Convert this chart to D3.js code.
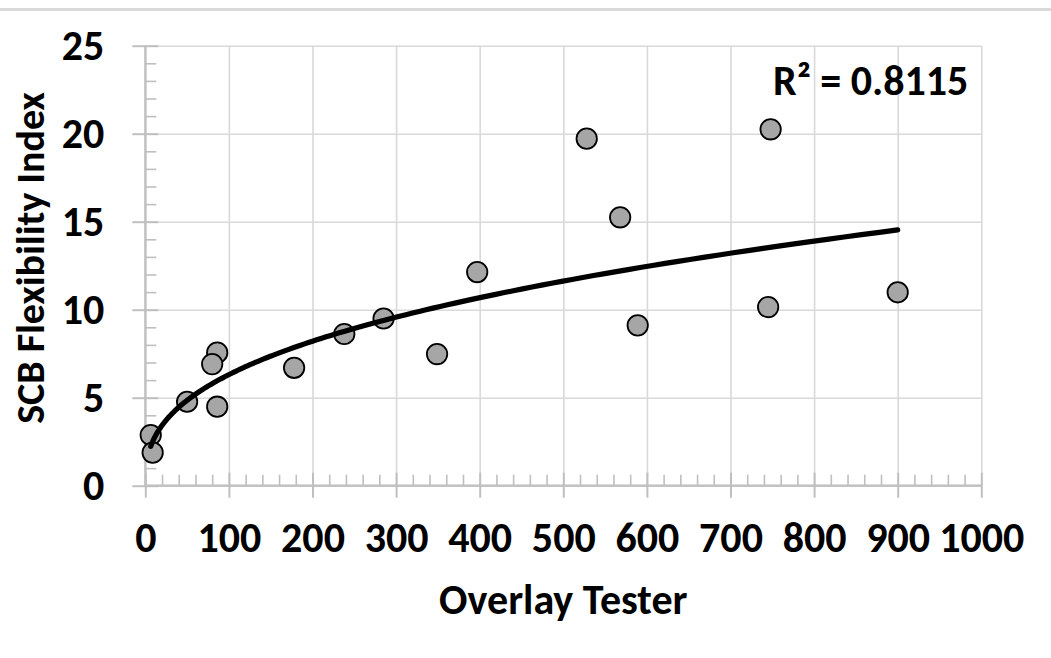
<!DOCTYPE html>
<html>
<head>
<meta charset="utf-8">
<script src="https://cdn.jsdelivr.net/npm/d3@7"></script>
<style>
  html, body { margin: 0; padding: 0; background: #fff; }
  svg { display: block; }
  text { font-family: Carlito, Lato, "Open Sans", sans-serif; font-weight: bold; fill: #000; }
</style>
</head>
<body>
<svg id="chart" width="1051" height="658"></svg>
<script>
// Overlay Tester cycles vs SCB Flexibility Index
const overlayTester = [6.5, 8.8, 50, 86, 80, 86, 178, 238, 285, 349, 397, 589, 528, 568, 748, 745, 900];
const flexIndex     = [2.88, 1.88, 4.77, 7.56, 6.91, 4.49, 6.70, 8.62, 9.5, 7.48, 12.14, 9.11, 19.72, 15.25, 20.25, 10.15, 10.99];
const xTicks = [0, 100, 200, 300, 400, 500, 600, 700, 800, 900, 1000];
const yTicks = [0, 5, 10, 15, 20, 25];
const rSquaredLabel = "R² = 0.8115";
const xTitle = "Overlay Tester";
const yTitle = "SCB Flexibility Index";

const svg = d3.select("#chart");
const W = 1051, H = 658;
const plot = { left: 145.3, right: 981.3, top: 45.7, bottom: 485.7 };

const x = d3.scaleLinear().domain([0, 1000]).range([plot.left, plot.right]);
const y = d3.scaleLinear().domain([0, 25]).range([plot.bottom, plot.top]);

svg.append("rect").attr("width", W).attr("height", H).attr("fill", "#fff");

// chart frame edge along the top
svg.append("line")
  .attr("x1", 0).attr("x2", W).attr("y1", 9.5).attr("y2", 9.5)
  .attr("stroke", "#d9d9d9").attr("stroke-width", 3);

// gridlines
const grid = svg.append("g");
grid.append("g")
  .attr("transform", `translate(0,${plot.bottom})`)
  .call(d3.axisBottom(x).tickValues(xTicks).tickSize(-(plot.bottom - plot.top)).tickFormat(""))
  .call(g => g.select(".domain").remove())
  .call(g => g.selectAll("line").attr("stroke", "#d9d9d9").attr("stroke-width", 1.6));
grid.append("g")
  .attr("transform", `translate(${plot.left},0)`)
  .call(d3.axisLeft(y).tickValues(yTicks).tickSize(-(plot.right - plot.left)).tickFormat(""))
  .call(g => g.select(".domain").remove())
  .call(g => g.selectAll("line").attr("stroke", "#d9d9d9").attr("stroke-width", 1.6));

const axisColor = "#bfbfbf";

// minor ticks (inside the plot)
const xMinor = d3.range(0, 1001, 20).filter(v => v % 100 !== 0);
const yMinor = d3.range(0, 26, 1).filter(v => v % 5 !== 0);
svg.append("g")
  .attr("transform", `translate(0,${plot.bottom})`)
  .call(d3.axisBottom(x).tickValues(xMinor).tickSize(-11).tickFormat(""))
  .call(g => g.select(".domain").remove())
  .call(g => g.selectAll("line").attr("stroke", axisColor).attr("stroke-width", 1.6));
svg.append("g")
  .attr("transform", `translate(${plot.left},0)`)
  .call(d3.axisLeft(y).tickValues(yMinor).tickSize(-11).tickFormat(""))
  .call(g => g.select(".domain").remove())
  .call(g => g.selectAll("line").attr("stroke", axisColor).attr("stroke-width", 1.6));

// major axes with crossing ticks
const fontSize = 42;
const xAxis = svg.append("g")
  .attr("transform", `translate(0,${plot.bottom})`)
  .call(d3.axisBottom(x).tickValues(xTicks).tickSizeOuter(0).tickFormat(d3.format("d")));
xAxis.select(".domain").attr("stroke", axisColor).attr("stroke-width", 2.2)
  .attr("d", `M${plot.left},0H${plot.right}`);
xAxis.selectAll(".tick line").attr("stroke", axisColor).attr("stroke-width", 2)
  .attr("y1", -13).attr("y2", 12);
xAxis.selectAll(".tick text").attr("y", 66).attr("dy", null)
  .style("font-size", fontSize + "px").attr("fill", "#000");
xAxis.attr("font-family", null).attr("font-size", null);

const yAxis = svg.append("g")
  .attr("transform", `translate(${plot.left},0)`)
  .call(d3.axisLeft(y).tickValues(yTicks).tickSizeOuter(0).tickFormat(d3.format("d")));
yAxis.select(".domain").attr("stroke", axisColor).attr("stroke-width", 2.2)
  .attr("d", `M0,${plot.bottom}V${plot.top}`);
yAxis.selectAll(".tick line").attr("stroke", axisColor).attr("stroke-width", 2)
  .attr("x1", 13).attr("x2", -13);
yAxis.selectAll(".tick text").attr("x", -41).attr("dy", "0.33em")
  .style("font-size", fontSize + "px").attr("fill", "#000");
yAxis.attr("font-family", null).attr("font-size", null);

// power trendline y = c * x^b fitted by least squares in log-log space
const lx = overlayTester.map(Math.log), ly = flexIndex.map(Math.log);
const mx = d3.mean(lx), my = d3.mean(ly);
const b = d3.sum(lx, (v, i) => (v - mx) * (ly[i] - my)) / d3.sum(lx, v => (v - mx) * (v - mx));
const c = Math.exp(my - b * mx);
const [xmin, xmax] = d3.extent(overlayTester);
const curveX = d3.range(0, 201).map(i => xmin * Math.pow(xmax / xmin, i / 200));
const trend = d3.line().x(d => x(d)).y(d => y(c * Math.pow(d, b)));

// data points
svg.append("g").selectAll("circle")
  .data(overlayTester.map((v, i) => [v, flexIndex[i]]))
  .join("circle")
  .attr("cx", d => x(d[0])).attr("cy", d => y(d[1])).attr("r", 10.2)
  .attr("fill", "#a6a6a6").attr("stroke", "#000").attr("stroke-width", 1.8);

// trendline drawn over the markers
svg.append("path")
  .datum(curveX)
  .attr("fill", "none").attr("stroke", "#000").attr("stroke-width", 5.2)
  .attr("stroke-linecap", "round")
  .attr("d", trend);

// labels
svg.append("text")
  .attr("x", 773).attr("y", 95)
  .style("font-size", fontSize + "px")
  .text(rSquaredLabel);

svg.append("text")
  .attr("x", (plot.left + plot.right) / 2).attr("y", 614)
  .attr("text-anchor", "middle")
  .style("font-size", fontSize + "px")
  .text(xTitle);

svg.append("text")
  .attr("transform", `translate(44,258) rotate(-90)`)
  .attr("text-anchor", "middle")
  .style("font-size", "40px")
  .text(yTitle);
</script>
</body>
</html>
